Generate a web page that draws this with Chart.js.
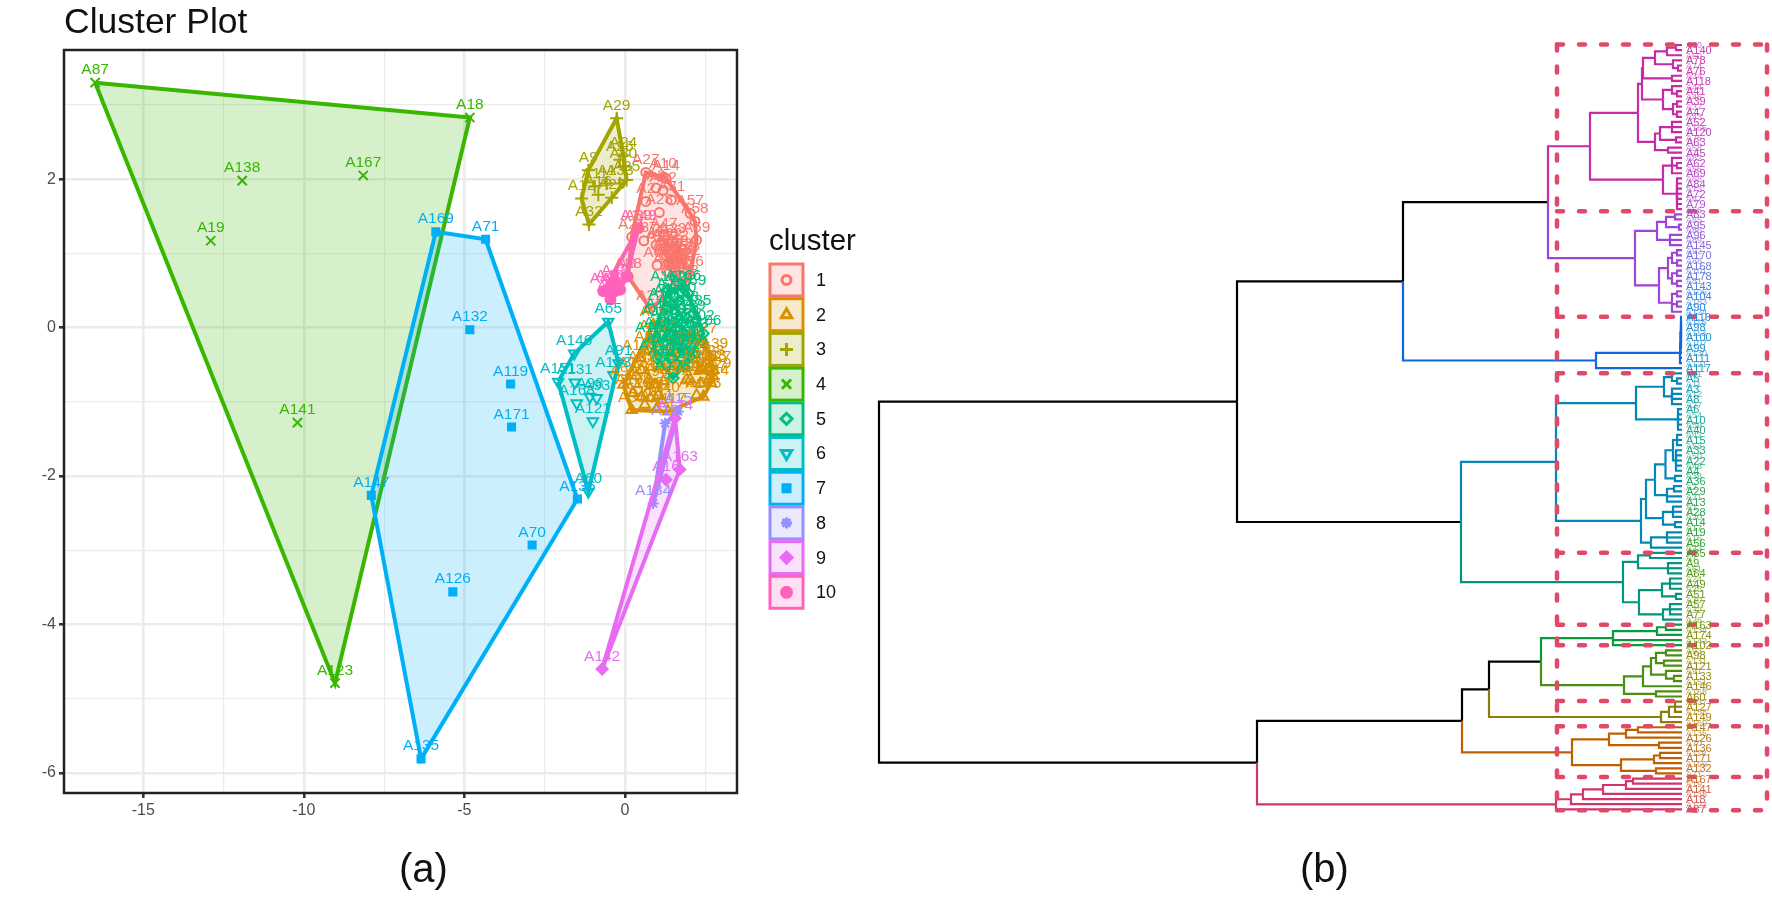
<!DOCTYPE html>
<html lang="en">
<head>
  <meta charset="UTF-8">
  <title>Cluster Plot and Dendrogram</title>
  <script src="https://cdn.jsdelivr.net/npm/chart.js@4.4.4/dist/chart.umd.min.js"></script>
  <style>
    body { margin: 0; background: #fff; font-family: "Liberation Sans", Arial, sans-serif; overflow: hidden; }
    #page { position: relative; width: 1772px; height: 922px; }
    canvas { position: absolute; top: 0; }
    #clusterChart { left: 0; }
    #treeChart { left: 860px; }
    .caption { position: absolute; color: #111; white-space: nowrap; }
    #plotTitle { left: 64px; top: 0px; font-size: 35.5px; line-height: 42px; }
    #capA { left: 399px; top: 845px; font-size: 40px; line-height: 46px; }
    #capB { left: 1300px; top: 845px; font-size: 40px; line-height: 46px; }
  </style>
</head>
<body>
<div id="page">
  <canvas id="clusterChart" width="860" height="860"></canvas>
  <canvas id="treeChart" width="912" height="922"></canvas>
  <div class="caption" id="plotTitle">Cluster Plot</div>
  <div class="caption" id="capA">(a)</div>
  <div class="caption" id="capB">(b)</div>
</div>
<script>
// cluster members: [label, dim1, dim2]
const cluster1 = [['A27',0.65,2.09],['A10',1.19,2.03],['A14',1.28,2.01],['A3',0.97,1.88],['A42',1.19,1.85],['A31',1.45,1.72],['A2',0.65,1.70],['A28',1.07,1.55],['A57',2.03,1.54],['A58',2.18,1.43],['A59',2.23,1.18],['A39',0.42,1.34],['A37',0.59,1.17],['A21',0.21,1.22],['A5',0.97,1.11],['A47',1.21,1.23],['A66',1.0,0.84],['A83',1.40,1.0],['A12',1.56,1.07],['A54',1.30,0.96],['A53',1.66,0.96],['A84',1.82,1.0],['A50',1.51,0.87],['A48',1.71,0.82],['A76',2.03,0.71],['A38',1.87,0.60],['A49',1.61,0.62],['A36',1.30,0.76],['A88',0.10,0.69],['A22',0.78,0.26],['A17',1.09,1.05],['A56',1.35,1.14],['A62',1.92,0.87],['A6',1.45,0.92],['A11',1.58,0.75],['A13',1.75,0.68],['A20',1.25,1.08],['A23',1.48,1.16],['A33',1.62,0.88],['A43',1.38,0.84],['A51',1.78,0.92],['A55',1.52,0.68]];
const cluster2 = [['A99',0.88,0.04],['A105',0.47,-0.41],['A91',-0.05,-0.77],['A30',0.21,-1.11],['A110',0.62,-1.04],['A111',0.99,-1.09],['A117',1.35,-1.13],['A155',2.44,-0.93],['A100',2.03,-0.70],['A101',2.23,-0.91],['A127',2.75,-0.57],['A129',2.75,-0.66],['A139',2.65,-0.39],['A77',2.44,-0.19],['A85',0.52,-0.57],['A94',0.93,-0.77],['A97',1.04,-0.91],['A103',0.52,-0.93],['A108',0.26,-0.88],['A109',1.09,-0.52],['A112',1.5,-0.39],['A114',1.82,-0.30],['A116',2.13,-0.43],['A122',1.92,-0.70],['A125',2.34,-0.57],['A128',2.54,-0.48],['A137',2.6,-0.70],['A92',0.72,-0.3],['A104',1.0,-0.15],['A118',0.75,-0.7],['A120',1.2,-0.72],['A124',0.35,-0.65],['A140',1.15,-0.98],['A143',2.6,-0.55],['A144',2.68,-0.75],['A145',2.35,-0.75],['A148',0.8,-0.95]];
const cluster3 = [['A29',-0.26,2.82],['A24',-0.05,2.32],['A35',0.05,1.99],['A9',-1.14,2.12],['A32',-1.12,1.39],['A12',-1.35,1.74],['A25',-0.41,1.75],['A16',-0.83,1.79],['A33',-0.16,1.94],['A11',-0.94,1.90],['A1',-0.57,1.94],['A30',-0.05,2.17],['A26',-0.16,2.26]];
const cluster4 = [['A87',-16.5,3.3],['A18',-4.83,2.83],['A138',-11.92,1.98],['A167',-8.15,2.05],['A19',-12.9,1.17],['A141',-10.2,-1.28],['A123',-9.03,-4.79]];
const cluster5 = [['A162',1.35,0.51],['A166',1.82,0.53],['A169',1.97,0.46],['A185',2.13,0.19],['A106',2.44,-0.08],['A102',2.23,-0.01],['A150',1.30,0.28],['A152',1.56,0.19],['A154',1.77,0.06],['A156',1.09,0.06],['A157',0.88,-0.17],['A159',1.45,-0.12],['A160',1.92,-0.21],['A161',1.2,-0.32],['A164',1.61,-0.34],['A172',2.03,-0.39],['A173',1.5,-0.68],['A175',1.82,-0.52],['A176',1.3,-0.48],['A177',0.99,-0.41],['A179',1.45,0.32],['A180',1.66,0.36],['A181',1.2,0.15],['A182',1.87,-0.1],['A184',1.4,-0.28],['A186',1.7,-0.12],['A187',1.55,0.42],['A188',1.75,0.25],['A189',1.95,0.12],['A190',1.35,0.02],['A191',1.55,-0.02],['A192',1.15,-0.1],['A193',2.05,-0.12],['A194',1.7,-0.25],['A195',1.42,-0.42],['A196',1.62,-0.5],['A197',1.9,-0.35],['A198',1.25,-0.18]];
const cluster6 = [['A65',-0.52,0.08],['A146',-1.58,-0.35],['A151',-2.08,-0.73],['A131',-1.56,-0.74],['A168',-1.5,-1.02],['A98',-1.09,-0.93],['A93',-0.88,-0.95],['A121',-1.0,-1.26],['A60',-1.14,-2.21],['A133',-0.36,-0.64],['A91',-0.2,-0.48]];
const cluster7 = [['A169',-5.89,1.29],['A71',-4.34,1.19],['A132',-4.83,-0.03],['A119',-3.56,-0.76],['A171',-3.53,-1.34],['A147',-7.9,-2.26],['A136',-1.48,-2.31],['A70',-2.89,-2.93],['A126',-5.36,-3.56],['A135',-6.35,-5.81]];
const cluster8 = [['A134',0.88,-2.37],['A10',1.25,-1.29],['A15',1.66,-1.13]];
const cluster9 = [['A142',-0.71,-4.6],['A163',1.71,-1.91],['A16',1.28,-2.05],['A174',1.56,-1.22]];
const cluster10 = [['A149',0.42,1.34],['A44',-0.67,0.49],['A40',-0.45,0.38],['A4',-0.15,0.51],['A48',-0.31,0.60],['A46',-0.49,0.53],['A8',0.05,0.69],['A43',-0.31,0.49]];
const clusterNames = ['1','2','3','4','5','6','7','8','9','10'];
const clusterMembers = [cluster1,cluster2,cluster3,cluster4,cluster5,cluster6,cluster7,cluster8,cluster9,cluster10];

// dendrogram of panel (b): a node is [merge height, child, child...], a leaf is its label
const treeMagenta = [9.2,
  [4.4,
    [4.0,
      [3.9,
        [2.7,[1.5,[0.6,'A80','A140'],'A60'],[0.9,'A78',[0.4,'A74','A76']]],
        [1.0,'A34','A118']],
      [1.9,[1.0,'A44',[0.5,'A41','A46']],[0.9,[0.5,'A39','A37'],[0.5,'A47','A43']]]],
    [2.7,
      [2.2,[1.0,'A52','A165','A120'],[0.6,'A75','A63']],
      [1.4,'A58','A45']]],
  [1.9,
    [1.0,'A82',[0.5,'A62','A55'],'A69'],
    [0.5,'A68','A84','A73','A72','A67','A79','A66']]];
const treePurple = [4.7,
  [2.5,[1.6,[0.7,'A83','A65'],[0.3,'A95','A86']],[1.2,'A96','A89','A145']],
  [2.3,
    [1.4,[1.0,[0.5,'A92','A170'],[0.5,'A88','A168']],[1.0,[0.5,'A101','A178'],[0.5,'A81','A143']]],
    [1.0,[0.5,'A106','A104'],[0.5,'A183','A90'],'A124']]];
const treeBlue = [8.6,
  [0.2,[0.16,[0.1,'A116','A115','A98','A113','A100','A107','A99'],'A130'],'A111','A121'],
  'A117'];
const treeCyan = [12.6,
  [4.6,
    [1.8,[1.0,'A31',[0.5,'A5','A11']],[1.0,'A3','A12','A8','A27']],
    [0.4,'A6','A54','A10','A59','A40']],
  [4.1,
    [3.6,
      [2.7,
        [1.65,[0.9,[0.5,'A42','A15','A53'],[0.6,'A33','A50','A22','A48','A4']],[0.7,'A38','A36']],
        [1.5,[0.8,'A2','A29'],'A21','A13']],
      [1.9,[0.9,'A1','A28','A20'],[0.7,'A14','A17']]],
    [3.1,[1.5,'A19','A16','A56'],'A23']]];
const treeTeal = [5.9,
  [4.4,[3.2,'A35','A7'],[1.4,'A9','A61','A64']],
  [4.3,
    [2.0,[1.2,'A24','A49','A25'],[0.6,'A51','A30']],
    [1.9,[1.2,'A57','A32','A77'],'A26']]];
const treeGreenTop = [6.9,
  [2.5,[1.6,'A163','A134'],'A174'],
  'A142','A102'];
const treeGreenLow = [5.8,
  [3.9,
    [3.1,[2.6,[1.6,'A93','A98'],[1.8,'A131','A121']],[1.6,'A91',[0.8,'A133','A151']]],
    'A146'],
  [2.6,'A168','A60']];
const treeOlive = [2.1,[1.3,[0.7,'A137','A127','A158'],'A149'],'A169'];
const treeOrange = [11.0,
  [7.3,[5.6,[4.4,'A147','A135'],'A126'],[2.3,'A70','A136']],
  [6.1,[2.8,[2.2,'A119','A171'],'A169'],[2.6,'A132','A71']]];
const treeCrimson = [12.6,[11.1,[9.9,[7.9,[5.6,[4.9,'A167','A19'],'A141'],'A138'],'A18'],'A123'],'A87'];
const treeRoot = [80.3,
  [44.5,[27.9,[13.4,treeMagenta,treePurple],treeBlue],[22.1,treeCyan,treeTeal]],
  [42.5,[22.0,[19.3,[14.1,treeGreenTop,treeGreenLow],treeOlive],treeOrange],treeCrimson]];
// dashed boxes, in leaf ranks and merge height
const boxEdgeRanks = [-0.1,32.4,53,64,99,113,117,127.9,132.8,142.7,149.2];
const boxHeights = [12.5,-8.5];
const blackAbove = 13;

const clusterColors = ['#F8766D','#D89000','#A3A500','#39B600','#00BF7D','#00BFC4','#00B0F6','#9590FF','#E76BF3','#FF62BC'];
const clusterShapes = ['circle','triangle','cross','crossRot','rectRot','triangle','rect','star','rectRot','circle'];
const clusterRadius = [4.5,6,6.5,6.5,5.5,6,5,5.5,5.5,5];
const clusterFilled = [false,false,false,false,false,false,true,false,true,true];
const branchStops = [[33,'#C72AA6'],[53,'#A044D3'],[64,'#0F66DE'],[99,'#0487B8'],[113,'#00967F'],[118,'#0A9A3C'],[128,'#4A8F0E'],[133,'#8A7D0A'],[143,'#BF6000'],[999,'#D2356B']];
const labelStops = [[0,[201,59,168]],[25,[181,74,197]],[33,[169,83,208]],[45,[94,123,224]],[52,[31,136,224]],[64,[28,151,190]],[75,[31,168,143]],[95,[47,161,58]],[105,[95,154,18]],[120,[142,138,16]],[130,[166,130,14]],[143,[199,107,48]],[150,[210,79,107]]];

function alpha(hex, a) {
  const n = parseInt(hex.slice(1), 16);
  return 'rgba(' + (n >> 16) + ',' + ((n >> 8) & 255) + ',' + (n & 255) + ',' + a + ')';
}

function convexHull(members) {
  const pts = members.map(m => ({x: m[1], y: m[2]})).sort((a, b) => a.x - b.x || a.y - b.y);
  const cross = (o, a, b) => (a.x - o.x) * (b.y - o.y) - (a.y - o.y) * (b.x - o.x);
  const half = list => {
    const out = [];
    list.forEach(p => {
      while (out.length > 1 && cross(out[out.length - 2], out[out.length - 1], p) <= 0) out.pop();
      out.push(p);
    });
    out.pop();
    return out;
  };
  const hull = half(pts).concat(half(pts.slice().reverse()));
  hull.push(hull[0]);
  return hull;
}

// panel (a)
const clusterDatasets = [];
clusterMembers.forEach((members, i) => {
  const color = clusterColors[i];
  clusterDatasets.push({
    data: convexHull(members), showLine: true, fill: 'shape', tension: 0,
    backgroundColor: alpha(color, 0.2), borderColor: color, borderWidth: 4, pointRadius: 0, order: 40 - i * 2
  });
  clusterDatasets.push({
    data: members.map(m => ({x: m[1], y: m[2]})), labels: members.map(m => m[0]),
    pointStyle: clusterShapes[i], pointRotation: i === 5 ? 180 : 0,
    pointRadius: clusterRadius[i], pointBorderColor: color, pointBorderWidth: 2,
    pointBackgroundColor: clusterFilled[i] ? color : 'rgba(0,0,0,0)', order: 39 - i * 2
  });
});

const pointLabels = {
  id: 'pointLabels',
  afterDatasetsDraw(chart) {
    const ctx = chart.ctx;
    ctx.save();
    ctx.font = '15.5px "Liberation Sans", Arial, sans-serif';
    ctx.textAlign = 'center';
    ctx.textBaseline = 'bottom';
    chart.data.datasets.forEach(ds => {
      if (!ds.labels) return;
      ctx.fillStyle = ds.pointBorderColor;
      ds.data.forEach((p, j) => {
        ctx.fillText(ds.labels[j], chart.scales.x.getPixelForValue(p.x), chart.scales.y.getPixelForValue(p.y) - 5);
      });
    });
    ctx.restore();
  }
};

const panelFrame = {
  id: 'panelFrame',
  afterDraw(chart) {
    const a = chart.chartArea, ctx = chart.ctx;
    ctx.save();
    ctx.strokeStyle = '#222';
    ctx.lineWidth = 2.5;
    ctx.strokeRect(a.left, a.top, a.right - a.left, a.bottom - a.top);
    // legend
    ctx.fillStyle = '#111';
    ctx.font = '29.5px "Liberation Sans", Arial, sans-serif';
    ctx.textBaseline = 'alphabetic';
    ctx.fillText('cluster', 769, 250);
    ctx.font = '18px "Liberation Sans", Arial, sans-serif';
    ctx.textBaseline = 'middle';
    clusterNames.forEach((name, i) => {
      const top = 264 + i * 34.7, color = clusterColors[i];
      ctx.fillStyle = alpha(color, 0.2);
      ctx.fillRect(770, top, 33, 32);
      ctx.strokeStyle = color;
      ctx.lineWidth = 3;
      ctx.strokeRect(770, top, 33, 32);
      ctx.fillStyle = clusterFilled[i] ? color : 'rgba(0,0,0,0)';
      Chart.helpers.drawPoint(ctx, {pointStyle: clusterShapes[i], rotation: i === 5 ? 180 : 0, radius: clusterRadius[i], borderWidth: 2}, 786.5, top + 16);
      ctx.fillStyle = '#111';
      ctx.fillText(name, 816, top + 17);
    });
    ctx.restore();
  }
};

new Chart(document.getElementById('clusterChart'), {
  type: 'scatter',
  data: {datasets: clusterDatasets},
  plugins: [pointLabels, panelFrame],
  options: {
    responsive: false, animation: false, devicePixelRatio: 1,
    layout: {padding: {top: 50, right: 123, left: 0, bottom: 0}},
    plugins: {legend: {display: false}, tooltip: {enabled: false}},
    scales: {
      x: {
        type: 'linear', min: -17.47, max: 3.49,
        afterFit(s) { s.height = 67; },
        border: {display: false},
        grid: {
          color: '#EBEBEB', tickLength: 5,
          lineWidth: c => c.tick && c.tick.value % 5 === 0 ? 2.6 : 1.2,
          tickColor: c => c.tick && c.tick.value % 5 === 0 ? '#333' : 'rgba(0,0,0,0)'
        },
        ticks: {
          stepSize: 2.5, includeBounds: false, autoSkip: false, maxRotation: 0, padding: 3,
          color: '#4D4D4D', font: {size: 16, family: '"Liberation Sans"'},
          callback: v => v % 5 === 0 ? String(v) : ''
        }
      },
      y: {
        type: 'linear', min: -6.27, max: 3.74,
        afterFit(s) { s.width = 64; },
        border: {display: false},
        grid: {
          color: '#EBEBEB', tickLength: 5,
          lineWidth: c => c.tick && c.tick.value % 2 === 0 ? 2.6 : 1.2,
          tickColor: c => c.tick && c.tick.value % 2 === 0 ? '#333' : 'rgba(0,0,0,0)'
        },
        ticks: {
          stepSize: 1, includeBounds: false, autoSkip: false, padding: 3,
          color: '#4D4D4D', font: {size: 16, family: '"Liberation Sans"'},
          callback: v => v % 2 === 0 ? String(v) : ''
        }
      }
    }
  }
});

// panel (b): walk the tree, leaves take consecutive ranks
const treeDatasets = [];
const treeLeaves = [];
function branchColor(rank) {
  return branchStops.find(s => rank < s[0])[1];
}
function placeNode(node) {
  if (typeof node === 'string') {
    treeLeaves.push({label: node, rank: treeLeaves.length});
    return {h: 0, y: treeLeaves.length - 1};
  }
  const kids = node.slice(1).map(placeNode);
  const y = (kids[0].y + kids[kids.length - 1].y) / 2;
  kids.forEach(k => {
    treeDatasets.push({
      data: [{x: node[0], y: y}, {x: node[0], y: k.y}, {x: k.h, y: k.y}],
      showLine: true, fill: false, tension: 0, pointRadius: 0, borderWidth: 2.2,
      borderColor: k.h > blackAbove ? '#000' : branchColor(k.y), order: 5
    });
  });
  return {h: node[0], y: y};
}
placeNode(treeRoot);

function labelColor(rank) {
  for (let i = 1; i < labelStops.length; i++) {
    if (rank <= labelStops[i][0]) {
      const a = labelStops[i - 1], b = labelStops[i], t = (rank - a[0]) / (b[0] - a[0]);
      return 'rgb(' + a[1].map((c, k) => Math.round(c + (b[1][k] - c) * t)).join(',') + ')';
    }
  }
  return 'rgb(210,79,107)';
}

const dashStyle = {showLine: true, fill: false, tension: 0, pointRadius: 0, borderWidth: 4.5, borderColor: '#E04A68', borderDash: [6, 16], borderCapStyle: 'round', order: 1};
boxHeights.forEach(h => {
  treeDatasets.push(Object.assign({data: [{x: h, y: boxEdgeRanks[0]}, {x: h, y: boxEdgeRanks[boxEdgeRanks.length - 1]}]}, dashStyle));
});
boxEdgeRanks.forEach(r => {
  treeDatasets.push(Object.assign({data: [{x: boxHeights[0], y: r}, {x: boxHeights[1], y: r}]}, dashStyle));
});

// every second label sits on top, as it does in the reference
const leafLabels = {
  id: 'leafLabels',
  afterDatasetsDraw(chart) {
    const ctx = chart.ctx;
    ctx.save();
    ctx.textAlign = 'left';
    ctx.textBaseline = 'middle';
    [0, 1].forEach(odd => {
      ctx.font = (odd ? '11' : '9') + 'px "Liberation Sans", Arial, sans-serif';
      ctx.globalAlpha = odd ? 1 : 0.75;
      treeLeaves.filter(leaf => leaf.rank % 2 === odd).forEach(leaf => {
        ctx.fillStyle = labelColor(leaf.rank);
        ctx.fillText(leaf.label, chart.scales.x.getPixelForValue(0) + 4, chart.scales.y.getPixelForValue(leaf.rank) + 1);
      });
    });
    ctx.restore();
  }
};

new Chart(document.getElementById('treeChart'), {
  type: 'scatter',
  data: {datasets: treeDatasets},
  plugins: [leafLabels],
  options: {
    responsive: false, animation: false, devicePixelRatio: 1,
    plugins: {legend: {display: false}, tooltip: {enabled: false}},
    scales: {
      x: {type: 'linear', reverse: true, min: -9, max: 82.2, display: false},
      y: {type: 'linear', reverse: true, min: -8.77, max: 170.96, display: false}
    }
  }
});
</script>
</body>
</html>
